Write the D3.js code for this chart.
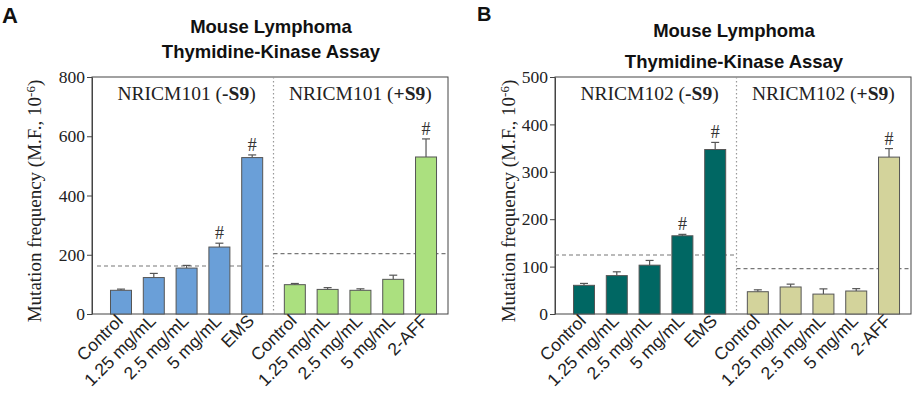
<!DOCTYPE html>
<html><head><meta charset="utf-8">
<script src="https://cdn.jsdelivr.net/npm/d3@7"></script>
<style>body{margin:0;background:#fff}svg{display:block}</style>
</head><body>
<svg id="c" width="913" height="398"></svg>
<script>
const categories = ["Control","1.25 mg/mL","2.5 mg/mL","5 mg/mL","EMS","Control","1.25 mg/mL","2.5 mg/mL","5 mg/mL","2-AFF"];
const groupNamesA = ["NRICM101", "NRICM101"];
const groupNamesB = ["NRICM102", "NRICM102"];
const valuesA = [80,123,155,226,528, 99,83,80,117,530];
const errorsA = [4,14,9,13,9, 4,6,5,14,61];
const sigA = [0,0,0,1,1, 0,0,0,0,1];
const thresholdsA = [162,204];
const ticksA = [0,200,400,600,800];
const valuesB = [60.5,81,103,165,347, 47,57,42,48.5,331];
const errorsB = [4,8,10,3,15, 4,6,11,5,18];
const sigB = [0,0,0,1,1, 0,0,0,0,1];
const thresholdsB = [124.5,95.6];
const ticksB = [0,100,200,300,400,500];

const svg = d3.select("#c");
const serif = "'Liberation Serif','Times New Roman',serif";
const sans = "'Liberation Sans',Arial,sans-serif";

function panel(o){
  const g = svg.append("g");
  const x0=o.left, x1=o.left+356, yTop=77, yBot=314;
  const pos = i => i + (i>=5 ? 0.3 : 0);
  const x = d3.scaleLinear().domain([-0.884, 9.97]).range([x0, x1]);
  const y = d3.scaleLinear().domain([0, o.max]).range([yBot, yTop]);
  const bw = x(0.64) - x(0);
  // panel letter
  g.append("text").attr("x",o.letterX).attr("y",o.letterY).attr("font-family",sans).attr("font-weight","bold")
   .attr("font-size",o.letterSize).attr("fill","#111").text(o.letter);
  // title
  const cx=(x0+x1)/2+1;
  g.append("text").attr("x",cx).attr("y",o.t1).attr("text-anchor","middle").attr("font-family",sans)
   .attr("font-weight","bold").attr("font-size",18.5).attr("fill","#111").text("Mouse Lymphoma");
  g.append("text").attr("x",cx).attr("y",o.t2).attr("text-anchor","middle").attr("font-family",sans)
   .attr("font-weight","bold").attr("font-size",18.5).attr("fill","#111").text("Thymidine-Kinase Assay");
  // y axis
  const ax = g.append("g").attr("transform",`translate(${x0},0)`)
    .call(d3.axisLeft(y).tickValues(o.ticks).tickSize(5).tickPadding(2).tickSizeOuter(0));
  ax.select(".domain").attr("stroke","#444");
  ax.selectAll(".tick line").attr("stroke","#444");
  ax.selectAll("text").attr("font-family",serif).attr("font-size",17.5).attr("fill","#222");
  // frame
  g.append("rect").attr("x",x0).attr("y",yTop).attr("width",x1-x0).attr("height",yBot-yTop)
   .attr("fill","none").attr("stroke","#444").attr("stroke-width",1);
  // y label
  const yl = g.append("text").attr("transform",`translate(${o.ylabX},${201}) rotate(-90)`)
    .attr("text-anchor","middle").attr("font-family",serif).attr("font-size",19).attr("fill","#222");
  yl.append("tspan").text("Mutation frequency (M.F., 10");
  yl.append("tspan").attr("dy","-0.5em").attr("font-size",13).text("-6");
  yl.append("tspan").attr("dy","0.35em").text(")");
  // divider
  const xd = x(4.65);
  g.append("line").attr("x1",xd).attr("x2",xd).attr("y1",yTop).attr("y2",yBot)
   .attr("stroke","#999").attr("stroke-dasharray","1.5,2.5").attr("stroke-width",1.2);
  // thresholds
  g.append("line").attr("x1",x0+o.dashOff).attr("x2",xd).attr("y1",y(o.thr[0])).attr("y2",y(o.thr[0]))
   .attr("stroke","#777").attr("stroke-dasharray","4,3").attr("stroke-width",1.2);
  g.append("line").attr("x1",xd).attr("x2",x1).attr("y1",y(o.thr[1])).attr("y2",y(o.thr[1]))
   .attr("stroke","#777").attr("stroke-dasharray","4,3").attr("stroke-width",1.2);
  // group labels
  [[2, o.names[0], "-"],[7.3, o.names[1], "+"]].forEach(([p,n,s])=>{
    const t = g.append("text").attr("x",x(p)).attr("y",100).attr("text-anchor","middle")
      .attr("font-family",serif).attr("font-size",19.5).attr("fill","#222");
    t.append("tspan").text(n+" (");
    t.append("tspan").attr("font-weight","bold").text(s+"S9");
    t.append("tspan").text(")");
  });
  // error bars
  const idx = d3.range(o.values.length);
  g.selectAll(".err").data(idx).join("line")
   .attr("x1",i=>x(pos(i))).attr("x2",i=>x(pos(i)))
   .attr("y1",i=>y(o.values[i])).attr("y2",i=>y(o.values[i]+o.errors[i]))
   .attr("stroke","#555").attr("stroke-width",1.2);
  g.selectAll(".cap").data(idx).join("line")
   .attr("x1",i=>x(pos(i))-4).attr("x2",i=>x(pos(i))+4)
   .attr("y1",i=>y(o.values[i]+o.errors[i])).attr("y2",i=>y(o.values[i]+o.errors[i]))
   .attr("stroke","#555").attr("stroke-width",1.2);
  // bars
  g.selectAll(".bar").data(idx).join("rect")
   .attr("x",i=>x(pos(i))-bw/2).attr("width",bw)
   .attr("y",i=>y(o.values[i])).attr("height",i=>yBot-y(o.values[i]))
   .attr("fill",i=>i<5?o.c1:o.c2).attr("stroke","#555").attr("stroke-width",1);
  // significance marks
  g.selectAll(".sig").data(idx.filter(i=>o.sig[i])).join("text")
   .attr("x",i=>x(pos(i))).attr("y",i=>y(o.values[i]+o.errors[i])-4)
   .attr("text-anchor","middle").attr("font-family",serif).attr("font-size",18).attr("fill","#333").text("#");
  // x labels
  g.selectAll(".xl").data(idx).join("text")
   .attr("transform",i=>`translate(${x(pos(i))+3},${322}) rotate(-45)`)
   .attr("text-anchor","end").attr("font-family",sans).attr("font-size",17.5).attr("fill","#222")
   .text(i=>categories[i]);
}

panel({left:92, max:800, ticks:ticksA, values:valuesA, errors:errorsA, sig:sigA, thr:thresholdsA,
  names:groupNamesA, c1:"#6a9fd8", c2:"#abe07f", letter:"A", letterX:2, letterY:23, letterSize:22, t1:33, t2:58, ylabX:41, dashOff:5});
panel({left:555, max:500, ticks:ticksB, values:valuesB, errors:errorsB, sig:sigB, thr:thresholdsB,
  names:groupNamesB, c1:"#006763", c2:"#d3d39b", letter:"B", letterX:477, letterY:21, letterSize:20, t1:37, t2:68, ylabX:515, dashOff:0});
</script>
</body></html>
